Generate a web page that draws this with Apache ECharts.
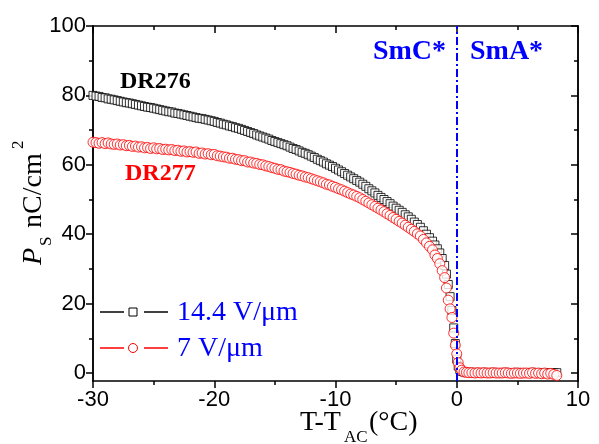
<!DOCTYPE html>
<html>
<head>
<meta charset="utf-8">
<script src="https://cdn.jsdelivr.net/npm/echarts@6/dist/echarts.min.js"></script>
<style>
  html, body { margin: 0; padding: 0; background: #fff; }
  #chart { width: 599px; height: 444px; }
</style>
</head>
<body>
<div id="chart"></div>
<script>
// temperature T - T_AC (°C), split by region
const tempSmC = [
  -30, -29.75, -29.5, -29.25, -29, -28.75, -28.5, -28.25, -28, -27.75, -27.5, -27.25,
  -27, -26.75, -26.5, -26.25, -26, -25.75, -25.5, -25.25, -25, -24.75, -24.5, -24.25,
  -24, -23.75, -23.5, -23.25, -23, -22.75, -22.5, -22.25, -22, -21.75, -21.5, -21.25,
  -21, -20.75, -20.5, -20.25, -20, -19.75, -19.5, -19.25, -19, -18.75, -18.5, -18.25,
  -18, -17.75, -17.5, -17.25, -17, -16.75, -16.5, -16.25, -16, -15.75, -15.5, -15.25,
  -15, -14.75, -14.5, -14.25, -14, -13.75, -13.5, -13.25, -13, -12.75, -12.5, -12.25,
  -12, -11.75, -11.5, -11.25, -11, -10.75, -10.5, -10.25, -10, -9.75, -9.5, -9.25,
  -9, -8.75, -8.5, -8.25, -8, -7.75, -7.5, -7.25, -7, -6.75, -6.5, -6.25,
  -6, -5.75, -5.5, -5.25, -5, -4.75, -4.5, -4.25, -4, -3.75, -3.5, -3.25,
  -3, -2.75, -2.5, -2.25, -2
]
const tempNear = [-1.8, -1.6, -1.4, -1.2, -1.0, -0.85, -0.7, -0.55, -0.4, -0.25, -0.12, 0, 0.12, 0.25, 0.4, 0.6]
const tempSmA = [
  0.8, 1.0, 1.25, 1.5, 1.75, 2.0, 2.25, 2.5, 2.75, 3.0, 3.25, 3.5, 3.75, 4.0, 4.25, 4.5,
  4.75, 5.0, 5.25, 5.5, 5.75, 6.0, 6.25, 6.5, 6.75, 7.0, 7.25, 7.5, 7.75, 8.0, 8.25
]

// DR276, 14.4 V/um (nC/cm2)
const ps276SmC = [
  80.0, 79.8, 79.7, 79.4, 79.3, 79.0, 78.9, 78.7, 78.5, 78.3, 78.1, 77.9,
  77.8, 77.6, 77.4, 77.2, 77.0, 76.8, 76.6, 76.5, 76.3, 76.1, 75.9, 75.7,
  75.5, 75.3, 75.2, 74.9, 74.8, 74.6, 74.4, 74.2, 74.0, 73.8, 73.6, 73.4,
  73.3, 73.1, 72.9, 72.7, 72.5, 72.2, 72.0, 71.7, 71.5, 71.2, 71.0, 70.7,
  70.5, 70.2, 69.9, 69.6, 69.3, 69.0, 68.6, 68.3, 68.0, 67.7, 67.4, 67.0,
  66.7, 66.4, 66.1, 65.8, 65.5, 65.1, 64.7, 64.4, 64.0, 63.6, 63.3, 62.9,
  62.5, 62.1, 61.6, 61.2, 60.8, 60.3, 59.9, 59.5, 59.0, 58.5, 58.0, 57.5,
  57.0, 56.5, 56.0, 55.5, 55.0, 54.4, 53.8, 53.1, 52.5, 51.9, 51.2, 50.6,
  50.0, 49.4, 48.8, 48.1, 47.5, 46.9, 46.3, 45.6, 45.0, 44.3, 43.5, 42.8,
  42.0, 41.0, 40.0, 39.0, 38.0
]
const ps276Near = [36.9, 35.8, 34.6, 33.0, 31.0, 28.5, 25.5, 22.0, 18.0, 13.0, 8.5, 4.0, 2.0, 1.0, 0.5, 0.3]
const ps276SmA = [
  0.2, 0.2, 0.1, 0.2, 0.1, 0.1, 0.2, 0.1, 0.1, 0.2, 0.1, 0.1, 0.1, 0.2, 0.1, 0.1,
  0.1, 0.2, 0.1, 0.1, 0.1, 0.1, 0.2, 0.1, 0.1, 0.1, 0.1, 0.1, 0.1, 0.1, 0.1
]

// DR277, 7 V/um (nC/cm2)
const ps277SmC = [
  66.5, 66.4, 66.2, 66.4, 66.1, 66.3, 66.0, 65.9, 66.0, 65.7, 65.8, 65.5,
  65.6, 65.3, 65.4, 65.1, 65.2, 64.9, 65.0, 64.7, 64.9, 64.6, 64.7, 64.4,
  64.5, 64.3, 64.4, 64.1, 64.2, 63.9, 64.0, 63.7, 63.8, 63.6, 63.7, 63.3,
  63.4, 63.1, 63.2, 62.9, 63.0, 62.6, 62.5, 62.3, 62.2, 61.9, 61.9, 61.6,
  61.5, 61.2, 61.2, 60.8, 60.8, 60.5, 60.4, 60.1, 60.0, 59.7, 59.5, 59.2,
  59.0, 58.7, 58.6, 58.2, 58.0, 57.8, 57.5, 57.3, 57.0, 56.8, 56.5, 56.3,
  56.0, 55.7, 55.4, 55.1, 54.8, 54.4, 54.2, 53.8, 53.5, 53.1, 52.8, 52.4,
  52.0, 51.6, 51.3, 50.9, 50.5, 50.0, 49.5, 49.0, 48.5, 48.0, 47.5, 47.0,
  46.5, 45.9, 45.4, 44.8, 44.3, 43.7, 43.2, 42.6, 42.0, 41.4, 40.8, 40.1,
  39.5, 38.5, 37.5, 36.5, 35.5
]
const ps277Near = [34.0, 33.0, 31.5, 29.5, 27.5, 24.5, 21.0, 18.5, 16.0, 11.5, 8.0, 5.5, 3.0, 1.5, 0.8, 0.3]
const ps277SmA = [
  0.2, 0.1, 0.1, 0.0, 0.1, 0.0, 0.1, 0.0, 0.0, 0.1, 0.0, 0.0, 0.0, 0.1, 0.0, -0.1,
  0.0, 0.0, -0.1, 0.0, 0.0, -0.1, 0.1, -0.1, 0.0, -0.2, 0.0, -0.3, -0.1, -0.4, -0.7
]

const yMajor = [0, 20, 40, 60, 80, 100]
const yMinor = [10, 30, 50, 70, 90]

function pairs(xs, ys) {
  return xs.map((x, i) => [x, ys[i]])
}
const temps = tempSmC.concat(tempNear, tempSmA)
const dr276 = pairs(temps, ps276SmC.concat(ps276Near, ps276SmA))
const dr277 = pairs(temps, ps277SmC.concat(ps277Near, ps277SmA))

const serif = '"Liberation Serif", "DejaVu Serif", serif'
const sans = '"Liberation Sans", Arial, sans-serif'
const axisLine = { show: true, onZero: false, lineStyle: { color: '#000', width: 1.5 } }

function yAxis(position, ticks, len, inside, labels) {
  return {
    type: 'value',
    position: position,
    min: -2.3,
    max: 100,
    axisLine: axisLine,
    splitLine: { show: false },
    axisTick: { show: true, inside: inside, length: len, customValues: ticks, lineStyle: { color: '#000', width: 1.5 } },
    axisLabel: labels
      ? { show: true, customValues: ticks, margin: 7, fontSize: 22, fontFamily: sans, color: '#000' }
      : { show: false }
  }
}

const chart = echarts.init(document.getElementById('chart'), null, { renderer: 'canvas' })

chart.setOption({
  animation: false,
  backgroundColor: '#fff',
  grid: { left: 93, right: 21, top: 26, bottom: 63 },
  xAxis: [
    {
      type: 'value',
      position: 'bottom',
      min: -30,
      max: 10,
      interval: 10,
      axisLine: axisLine,
      splitLine: { show: false },
      axisTick: { show: true, length: 7, lineStyle: { color: '#000', width: 1.5 } },
      minorTick: { show: true, splitNumber: 2, length: 4, lineStyle: { color: '#000', width: 1.5 } },
      axisLabel: { margin: 8, fontSize: 22, fontFamily: sans, color: '#000' }
    },
    {
      type: 'value',
      position: 'top',
      min: -30,
      max: 10,
      interval: 10,
      axisLine: axisLine,
      splitLine: { show: false },
      axisTick: { show: true, inside: true, length: 7, lineStyle: { color: '#000', width: 1.5 } },
      minorTick: { show: true, splitNumber: 2, length: 4, lineStyle: { color: '#000', width: 1.5 } },
      axisLabel: { show: false }
    }
  ],
  yAxis: [
    yAxis('left', yMajor, 7, false, true),
    yAxis('left', yMinor, 4, false, false),
    yAxis('right', yMajor, 7, true, false),
    yAxis('right', yMinor, 4, true, false)
  ],
  series: [
    {
      name: '14.4 V/μm',
      type: 'scatter',
      data: dr276,
      symbol: 'rect',
      symbolSize: 8,
      itemStyle: { color: '#fff', borderColor: '#000', borderWidth: 1 }
    },
    {
      name: '7 V/μm',
      type: 'scatter',
      data: dr277,
      symbol: 'circle',
      symbolSize: 10,
      itemStyle: { color: '#fff', borderColor: '#ff0000', borderWidth: 1 },
      markLine: {
        silent: true,
        symbol: 'none',
        label: { show: false },
        lineStyle: { color: '#0000ff', width: 2, type: [8, 3, 2, 3] },
        data: [{ xAxis: 0 }]
      }
    }
  ],
  graphic: [
    // annotations
    { type: 'text', left: 120, top: 70, style: { text: 'DR276', font: 'bold 24px ' + serif, fill: '#000' } },
    { type: 'text', left: 125, top: 162, style: { text: 'DR277', font: 'bold 24px ' + serif, fill: '#ff0000' } },
    { type: 'text', x: 446, y: 52, style: { text: 'SmC*', font: 'bold 28px ' + serif, fill: '#0000ff', align: 'right', verticalAlign: 'middle' } },
    { type: 'text', x: 470, y: 52, style: { text: 'SmA*', font: 'bold 28px ' + serif, fill: '#0000ff', align: 'left', verticalAlign: 'middle' } },
    // legend
    { type: 'line', shape: { x1: 100, y1: 312, x2: 124, y2: 312 }, style: { stroke: '#000', lineWidth: 1.5 } },
    { type: 'rect', shape: { x: 129, y: 308, width: 8, height: 8 }, style: { fill: '#fff', stroke: '#000', lineWidth: 1 } },
    { type: 'line', shape: { x1: 144, y1: 312, x2: 168, y2: 312 }, style: { stroke: '#000', lineWidth: 1.5 } },
    { type: 'text', x: 177, y: 313, style: { text: '14.4 V/μm', font: '28px ' + serif, fill: '#0000ff', verticalAlign: 'middle' } },
    { type: 'line', shape: { x1: 100, y1: 348, x2: 124, y2: 348 }, style: { stroke: '#ff0000', lineWidth: 1.5 } },
    { type: 'circle', shape: { cx: 133, cy: 348, r: 4.5 }, style: { fill: '#fff', stroke: '#ff0000', lineWidth: 1 } },
    { type: 'line', shape: { x1: 144, y1: 348, x2: 168, y2: 348 }, style: { stroke: '#ff0000', lineWidth: 1.5 } },
    { type: 'text', x: 177, y: 349, style: { text: '7 V/μm', font: '28px ' + serif, fill: '#0000ff', verticalAlign: 'middle' } },
    // x axis title: T-T_AC(°C)
    { type: 'text', x: 300, y: 423, style: { text: 'T-T', font: '28px ' + serif, fill: '#000', verticalAlign: 'middle' } },
    { type: 'text', x: 344, y: 438, style: { text: 'AC', font: '17px ' + serif, fill: '#000', verticalAlign: 'middle' } },
    { type: 'text', x: 369, y: 423, style: { text: '(°C)', font: '28px ' + serif, fill: '#000', verticalAlign: 'middle' } },
    // y axis title: P_S nC/cm^2
    {
      type: 'group',
      x: 34,
      y: 265,
      rotation: Math.PI / 2,
      children: [
        { type: 'text', x: 0, y: 0, style: { text: 'P', font: 'italic 28px ' + serif, fill: '#000', verticalAlign: 'middle' } },
        { type: 'text', x: 19, y: 13, style: { text: 'S', font: '17px ' + serif, fill: '#000', verticalAlign: 'middle' } },
        { type: 'text', x: 37, y: 0, style: { text: 'nC/cm', font: '28px ' + serif, fill: '#000', verticalAlign: 'middle' } },
        { type: 'text', x: 116, y: -15, style: { text: '2', font: '17px ' + serif, fill: '#000', verticalAlign: 'middle' } }
      ]
    }
  ]
})
</script>
</body>
</html>
